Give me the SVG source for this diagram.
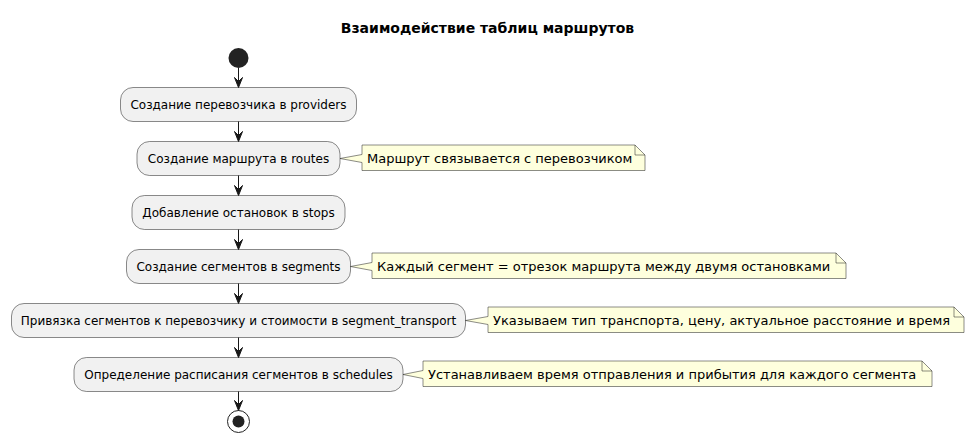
<svg xmlns="http://www.w3.org/2000/svg" width="975" height="443" viewBox="0 0 975 443">
<style>
.act{fill:#F1F1F1;stroke:#181818;stroke-width:0.5}
.note{fill:#FEFFDD;stroke:#181818;stroke-width:0.5}
.fold{fill:none;stroke:#181818;stroke-width:0.5}
.at{font-family:"DejaVu Sans",sans-serif;font-size:12px;fill:#000;text-anchor:middle}
.nt{font-family:"DejaVu Sans",sans-serif;font-size:13px;fill:#000}
.ttl{font-family:"DejaVu Sans",sans-serif;font-size:14px;font-weight:bold;fill:#000;text-anchor:middle}
.ln{stroke:#181818;stroke-width:1;fill:none}
.ah{fill:#181818;stroke:#181818;stroke-width:1}
</style>
<rect width="975" height="443" fill="#FFFFFF"/>
<text class="ttl" x="487.5" y="33">Взаимодействие таблиц маршрутов</text>

<g id="start"><circle cx="238.5" cy="58" r="10" fill="#222222"/></g>

<g id="a1"><rect class="act" x="120.5" y="87.5" width="236" height="34" rx="12.5"/><text class="at" x="238.5" y="108.7">Создание перевозчика в providers</text></g>
<g id="a2"><rect class="act" x="137" y="141.5" width="203" height="34" rx="12.5"/><text class="at" x="238.5" y="162.7">Создание маршрута в routes</text></g>
<g id="a3"><rect class="act" x="132" y="195.5" width="213" height="34" rx="12.5"/><text class="at" x="238.5" y="216.7">Добавление остановок в stops</text></g>
<g id="a4"><rect class="act" x="126.5" y="249.5" width="224" height="34" rx="12.5"/><text class="at" x="238.5" y="270.7">Создание сегментов в segments</text></g>
<g id="a5"><rect class="act" x="11.5" y="303.5" width="454" height="34" rx="12.5"/><text class="at" x="238.5" y="324.7">Привязка сегментов к перевозчику и стоимости в segment_transport</text></g>
<g id="a6"><rect class="act" x="74" y="357.5" width="329" height="34" rx="12.5"/><text class="at" x="238.5" y="378.7">Определение расписания сегментов в schedules</text></g>

<g id="end"><circle cx="238.5" cy="421.5" r="11" fill="none" stroke="#222222" stroke-width="1"/><circle cx="238.5" cy="421.5" r="6" fill="#222222"/></g>

<g id="n1"><path class="note" d="M362,145 L362,154.5 L340,158.5 L362,162.5 L362,170.5 L645,170.5 L645,155 L635,145 Z"/><path class="fold" d="M635,145 L635,155 L645,155"/><text class="nt" x="367" y="162.5">Маршрут связывается с перевозчиком</text></g>
<g id="n2"><path class="note" d="M372,253 L372,262.5 L350.5,266.5 L372,270.5 L372,278.5 L846,278.5 L846,263 L836,253 Z"/><path class="fold" d="M836,253 L836,263 L846,263"/><text class="nt" x="377" y="270.5">Каждый сегмент = отрезок маршрута между двумя остановками</text></g>
<g id="n3"><path class="note" d="M488,307 L488,316.5 L465.5,320.5 L488,324.5 L488,332.5 L964,332.5 L964,317 L954,307 Z"/><path class="fold" d="M954,307 L954,317 L964,317"/><text class="nt" x="493" y="324.5">Указываем тип транспорта, цену, актуальное расстояние и время</text></g>
<g id="n4"><path class="note" d="M423,361 L423,370.5 L403,374.5 L423,378.5 L423,386.5 L932,386.5 L932,371 L922,361 Z"/><path class="fold" d="M922,361 L922,371 L932,371"/><text class="nt" x="428" y="378.5">Устанавливаем время отправления и прибытия для каждого сегмента</text></g>

<g id="connectors">
<line class="ln" x1="238.5" y1="68" x2="238.5" y2="81.5"/><polygon class="ah" points="234.5,77.5 238.5,87.5 242.5,77.5 238.5,81.5"/>
<line class="ln" x1="238.5" y1="121.5" x2="238.5" y2="135.5"/><polygon class="ah" points="234.5,131.5 238.5,141.5 242.5,131.5 238.5,135.5"/>
<line class="ln" x1="238.5" y1="175.5" x2="238.5" y2="189.5"/><polygon class="ah" points="234.5,185.5 238.5,195.5 242.5,185.5 238.5,189.5"/>
<line class="ln" x1="238.5" y1="229.5" x2="238.5" y2="243.5"/><polygon class="ah" points="234.5,239.5 238.5,249.5 242.5,239.5 238.5,243.5"/>
<line class="ln" x1="238.5" y1="283.5" x2="238.5" y2="297.5"/><polygon class="ah" points="234.5,293.5 238.5,303.5 242.5,293.5 238.5,297.5"/>
<line class="ln" x1="238.5" y1="337.5" x2="238.5" y2="351.5"/><polygon class="ah" points="234.5,347.5 238.5,357.5 242.5,347.5 238.5,351.5"/>
<line class="ln" x1="238.5" y1="391.5" x2="238.5" y2="404.5"/><polygon class="ah" points="234.5,400.5 238.5,410.5 242.5,400.5 238.5,404.5"/>
</g>
</svg>
